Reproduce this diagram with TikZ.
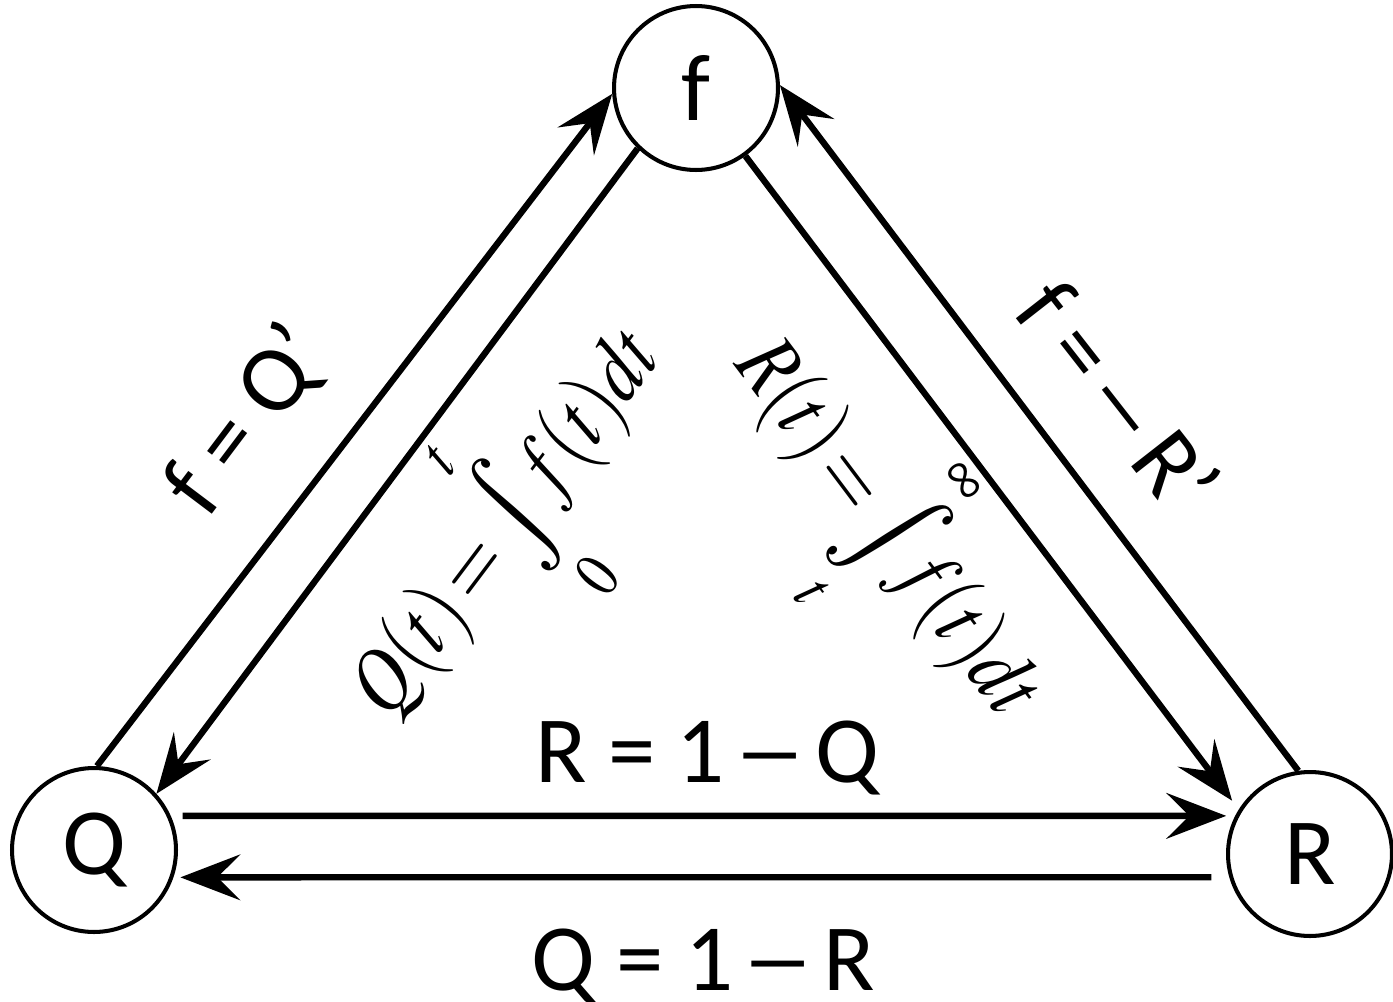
\documentclass[tikz,border=0pt]{standalone}
\usepackage{mathptmx}
\usepackage[no-math]{fontspec}
\setmainfont{Carlito}
\usetikzlibrary{arrows.meta}

\newcommand{\wdash}{\makebox[0.5em][c]{\scalebox{1.55}[1]{–}}}
\newcommand{\tint}{\mathop{\vcenter{\hbox{\scalebox{1.45}{$\textstyle\int$}}}}\limits}
\newcommand{\lo}[1]{\raisebox{0.12em}[0pt][0pt]{$\scriptstyle #1$}}
\newcommand{\hi}[1]{\raisebox{-0.3em}[0pt][0pt]{$\scriptstyle #1$}}

\begin{document}
\begin{tikzpicture}[
        x=0.02cm, y=-0.02cm,
        font=\fontsize{54}{60}\selectfont,
        state/.style={
            draw,
            circle,
            line width=2.3pt,
            minimum size=3.28cm,
            inner sep=0pt
        },
        arr/.style={
            line width=3.6pt,
            -{Stealth[length=34pt, width=26pt, inset=13pt]}
        },
        rel/.style={inner sep=0pt},
        eqn/.style={inner sep=0pt, font=\fontsize{44}{50}\selectfont}
    ]
    \useasboundingbox (0,0) rectangle (1393,1001);

    \node[state] (f) at (696,88) {f};
    \node[state] (Q) at (94,850) {Q};
    \node[state] (R) at (1310,854) {R};

    \node[rel, rotate=53] (fq) at (248,421) {f = Q’};
    \node[rel, rotate=-52] (fr) at (1119,396) {f = \wdash\ R’};
    \node[rel, anchor=base] (rq) at (707,782) {R = 1 \wdash\ Q};
    \node[rel, anchor=base] (qr) at (703,990) {Q = 1 \wdash\ R};

    \node[eqn, rotate=53, xscale=0.95, yscale=1.15] (qint) at (519,530) {$\displaystyle Q(t)\!=\!\tint_{\lo{0}}^{\hi{t}}\! f(t)dt$};
    \node[eqn, rotate=-53, xscale=0.95, yscale=1.15] (rint) at (877,538) {$\displaystyle R(t)\!=\!\tint_{\lo{t}}^{\hi{\infty}}\! f(t)dt$};

    \draw[arr] (Q.88) -- (f.184);
    \draw[arr] (f.226) -- (Q.42);
    \draw[arr, shorten >=0.22cm] (f.306) -- (R.148);
    \draw[arr] (R.98) -- (f.2);
    \draw[arr, shorten <=0.24cm, shorten >=0.18cm] (Q.24) -- (R.153);
    \draw[arr, shorten <=0.36cm, shorten >=0.14cm] (R.196) -- (Q.-19);
\end{tikzpicture}
\end{document}
